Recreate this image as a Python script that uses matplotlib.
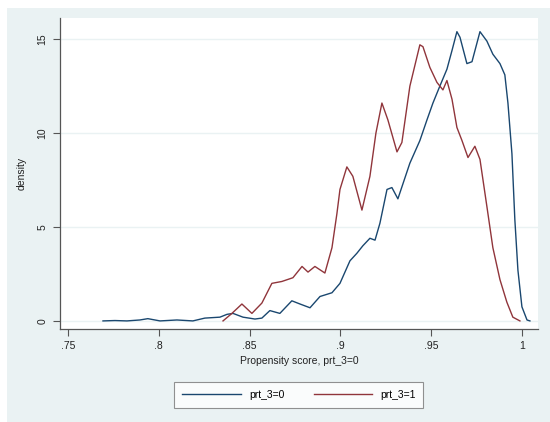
import matplotlib
matplotlib.use("Agg")
import matplotlib.pyplot as plt
from matplotlib.patches import Rectangle

# kernel density: prt_3=0 (navy) and prt_3=1 (maroon)
score_0 = [0.7693, 0.7759, 0.7825, 0.7896, 0.7940, 0.8007, 0.8100, 0.8188,
           0.8254, 0.8337, 0.8376, 0.8409, 0.8464, 0.8530, 0.8568, 0.8612,
           0.8667, 0.8733, 0.8778, 0.8833, 0.8888, 0.8954, 0.8998, 0.9053,
           0.9091, 0.9124, 0.9163, 0.9191, 0.9218, 0.9257, 0.9284, 0.9317,
           0.9383, 0.9438, 0.9477, 0.9510, 0.9548, 0.9587, 0.9615, 0.9642,
           0.9659, 0.9697, 0.9725, 0.9769, 0.9807, 0.9840, 0.9879, 0.9906,
           0.9923, 0.9945, 0.9961, 0.9978, 1.0000, 1.0028, 1.0044]
density_0 = [0.0, 0.02, 0.0, 0.05, 0.12, 0.0, 0.05, 0.0,
             0.15, 0.2, 0.35, 0.4, 0.2, 0.1, 0.15, 0.55,
             0.4, 1.07, 0.9, 0.7, 1.3, 1.5, 2.0, 3.2,
             3.6, 4.0, 4.4, 4.3, 5.2, 7.0, 7.1, 6.5,
             8.4, 9.6, 10.7, 11.6, 12.5, 13.4, 14.4, 15.4,
             15.1, 13.7, 13.8, 15.4, 14.9, 14.2, 13.7, 13.1,
             11.6, 8.9, 5.4, 2.7, 0.75, 0.05, 0.0]

score_1 = [0.8354, 0.8403, 0.8458, 0.8513, 0.8568, 0.8623, 0.8678, 0.8739,
           0.8789, 0.8822, 0.8860, 0.8915, 0.8954, 0.8981, 0.8998, 0.9036,
           0.9069, 0.9119, 0.9163, 0.9196, 0.9229, 0.9262, 0.9312, 0.9339,
           0.9383, 0.9438, 0.9455, 0.9493, 0.9532, 0.9565, 0.9587, 0.9615,
           0.9642, 0.9670, 0.9703, 0.9741, 0.9769, 0.9807, 0.9840, 0.9879,
           0.9917, 0.9950, 0.9989]
density_1 = [0.0, 0.4, 0.9, 0.4, 0.95, 2.0, 2.1, 2.3,
             2.9, 2.6, 2.9, 2.55, 3.9, 5.7, 7.0, 8.2,
             7.7, 5.9, 7.7, 10.0, 11.6, 10.7, 9.0, 9.5,
             12.5, 14.7, 14.6, 13.5, 12.7, 12.3, 12.8, 11.8,
             10.3, 9.6, 8.7, 9.3, 8.6, 6.1, 3.9, 2.2,
             1.0, 0.2, 0.0]

x_ticks = [0.75, 0.8, 0.85, 0.9, 0.95, 1.0]
x_tick_labels = [".75", ".8", ".85", ".9", ".95", "1"]
y_ticks = [0, 5, 10, 15]
labels = ["prt_3=0", "prt_3=1"]

NAVY = "#1a476f"
MAROON = "#90353b"
REGION = "#eaf2f3"
AXIS = "#555555"

plt.rcParams["font.family"] = ["Liberation Sans", "DejaVu Sans"]

fig = plt.figure(figsize=(5.5, 4.22), dpi=100, facecolor="white")
fig.patches.append(Rectangle((0.013, 0.0), 0.987, 0.98, transform=fig.transFigure,
                             facecolor=REGION, edgecolor="none", zorder=-1))

ax = fig.add_axes([0.109, 0.2204, 0.869, 0.7366])
ax.set_facecolor("white")

ax.plot(score_0, density_0, color=NAVY, lw=1.0, label=labels[0])
ax.plot(score_1, density_1, color=MAROON, lw=1.0, label=labels[1])

ax.set_xlim(0.7456, 1.0088)
ax.set_ylim(-0.43, 16.12)

ax.set_xticks(x_ticks)
ax.set_xticklabels(x_tick_labels)
ax.set_yticks(y_ticks)
ax.set_yticklabels([str(t) for t in y_ticks], rotation=90, va="center")
ax.yaxis.grid(True, color=REGION, lw=1.0)
ax.set_axisbelow(True)

for side in ("top", "right"):
    ax.spines[side].set_visible(False)
for side in ("left", "bottom"):
    ax.spines[side].set_color(AXIS)
    ax.spines[side].set_linewidth(0.9)
ax.tick_params(direction="out", length=5, width=0.8, color=AXIS,
               labelsize=7.5, labelcolor="#222222", pad=4)

ax.set_xlabel("Propensity score, prt_3=0", fontsize=7.5, color="#222222", labelpad=3)
ax.set_ylabel("density", fontsize=7.5, color="#222222", labelpad=8)

leg = fig.legend(loc="center", bbox_to_anchor=(0.5436, 0.064), ncol=2,
                 fontsize=7.5, handlelength=5.6, columnspacing=2.8,
                 frameon=True, fancybox=False, borderpad=0.75)
leg.get_frame().set_edgecolor("#777777")
leg.get_frame().set_linewidth(0.8)

fig.savefig("out.png", dpi=100, facecolor=fig.get_facecolor())
